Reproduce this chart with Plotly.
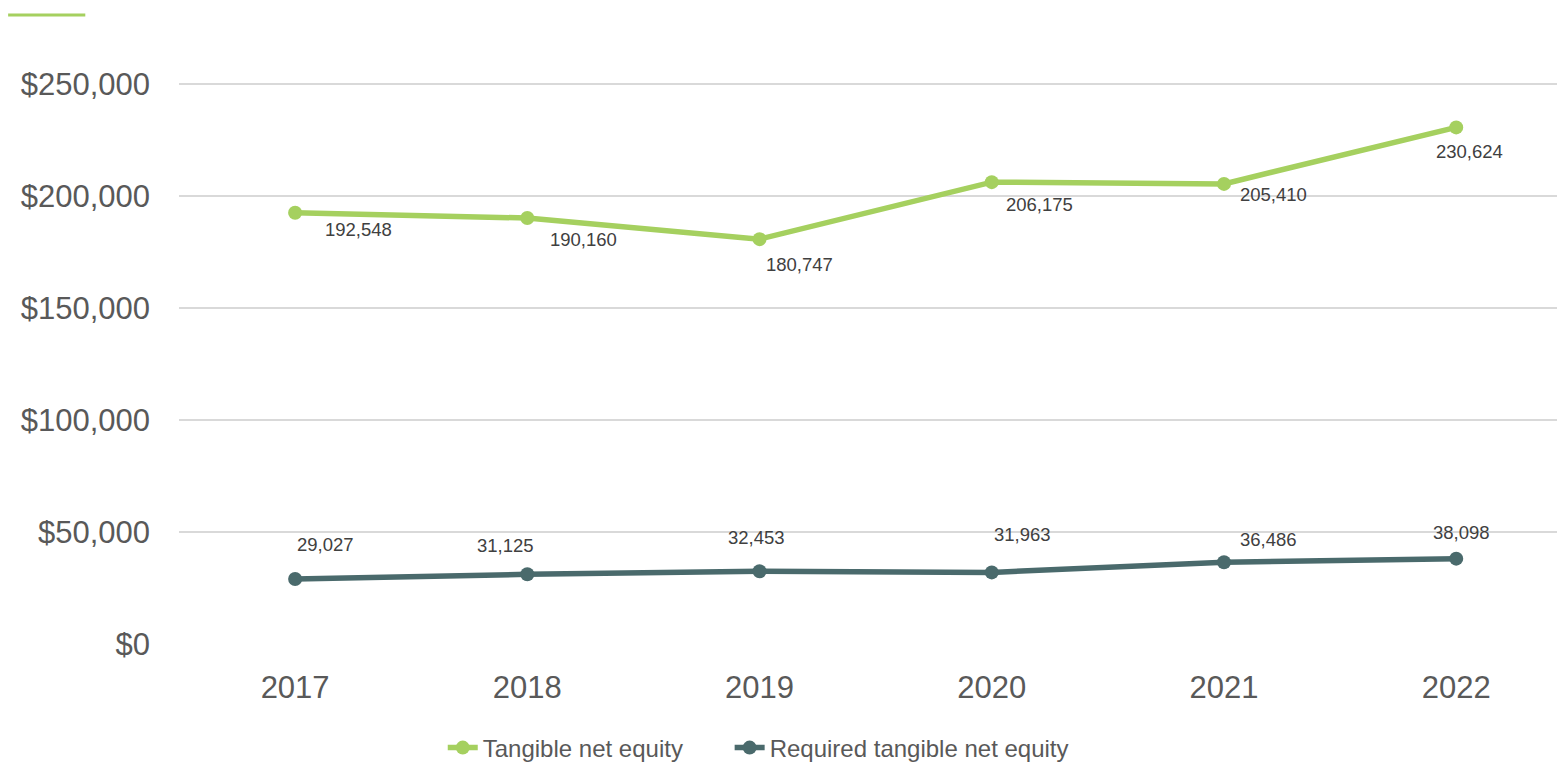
import plotly.graph_objects as go

# Data
years = ["2017", "2018", "2019", "2020", "2021", "2022"]
tangible_net_equity = [192548, 190160, 180747, 206175, 205410, 230624]
required_net_equity = [29027, 31125, 32453, 31963, 36486, 38098]
series_names = ["Tangible net equity", "Required tangible net equity"]
y_tick_values = [0, 50000, 100000, 150000, 200000, 250000]
y_tick_labels = ["$0", "$50,000", "$100,000", "$150,000", "$200,000", "$250,000"]

# Styling
GREEN = "#a5d05f"
SLATE = "#4a6a6c"
GRID = "#d9d9d9"
AXIS_TEXT = "#595959"
LABEL_TEXT = "#404040"
FONT = "Liberation Sans, Arial, sans-serif"

# Hand-placed label offsets (pixels) for each point's value label
green_label_dx = [63, 56, 40, 48, 50, 13]
green_label_dy = [-17, -21, -25, -22, -11, -24]
slate_label_dx = [30, -22, -3, 31, 45, 5]
slate_label_dy = [34, 29, 34, 38, 23, 26]

fig = go.Figure()

fig.add_trace(go.Scatter(
    x=years, y=tangible_net_equity, name=series_names[0],
    mode="lines+markers",
    line=dict(color=GREEN, width=5.5),
    marker=dict(color=GREEN, size=14),
    legend="legend",
))
fig.add_trace(go.Scatter(
    x=years, y=required_net_equity, name=series_names[1],
    mode="lines+markers",
    line=dict(color=SLATE, width=5.5),
    marker=dict(color=SLATE, size=14),
    legend="legend2",
))

# Value labels; category positions are given by index so that the
# numeric-looking year names are not read as serial numbers
annotations = []
for i in range(len(years)):
    annotations.append(dict(
        x=i, y=tangible_net_equity[i], xref="x", yref="y",
        text=f"{tangible_net_equity[i]:,}", showarrow=False,
        xshift=green_label_dx[i], yshift=green_label_dy[i],
        font=dict(family=FONT, size=18.5, color=LABEL_TEXT),
    ))
    annotations.append(dict(
        x=i, y=required_net_equity[i], xref="x", yref="y",
        text=f"{required_net_equity[i]:,}", showarrow=False,
        xshift=slate_label_dx[i], yshift=slate_label_dy[i],
        font=dict(family=FONT, size=18.5, color=LABEL_TEXT),
    ))

legend_style = dict(
    orientation="h", yref="container", yanchor="middle", y=0.0248,
    xanchor="left",
    font=dict(family=FONT, size=24, color=AXIS_TEXT),
    itemsizing="trace", bgcolor="rgba(0,0,0,0)",
)

fig.update_layout(
    width=1558, height=767,
    margin=dict(l=179, r=1, t=28, b=123, autoexpand=False),
    paper_bgcolor="white", plot_bgcolor="white",
    font=dict(family=FONT, color=AXIS_TEXT),
    showlegend=True,
    legend=dict(legend_style, x=0.1914),
    legend2=dict(legend_style, x=0.3996),
    annotations=annotations,
    shapes=[dict(
        type="line", xref="paper", yref="paper",
        x0=-0.124, x1=-0.068, y0=1.021, y1=1.021,
        line=dict(color=GREEN, width=3),
    )],
)

fig.update_xaxes(
    type="category", range=[-0.5, 5.434],
    showgrid=False, zeroline=False, showline=False,
    ticks="", ticklabelstandoff=22,
    tickfont=dict(family=FONT, size=31, color=AXIS_TEXT),
)
fig.update_yaxes(
    range=[0, 275000],
    tickvals=y_tick_values, ticktext=y_tick_labels,
    showgrid=True, gridcolor=GRID, gridwidth=1.5,
    zeroline=False, showline=False, ticks="",
    ticklabelstandoff=28,
    tickfont=dict(family=FONT, size=31, color=AXIS_TEXT),
)

fig.write_html("out.html")
